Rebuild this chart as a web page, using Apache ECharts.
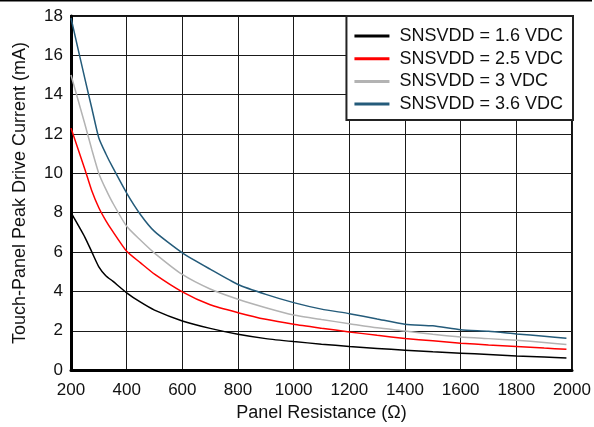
<!DOCTYPE html>
<html>
<head>
<meta charset="utf-8">
<script src="https://cdn.jsdelivr.net/npm/echarts@6/dist/echarts.min.js"></script>
<style>
   html, body { margin: 0; padding: 0; background: #fff; }
   #chart { width: 594px; height: 427px; }
</style>
</head>
<body>
<div id="chart"></div>
<script>
// panel resistance (ohm), shared by all curves
var resistance = [200, 250, 275, 300, 325, 350, 400, 450, 500, 600, 700, 800, 900,
   1000, 1100, 1200, 1300, 1400, 1500, 1600, 1700, 1800, 1900, 1980];

// peak drive current (mA)
var vdd16 = [8.0, 6.75, 6.0, 5.25, 4.8, 4.52, 3.93, 3.45, 3.05, 2.5, 2.12, 1.82, 1.6,
   1.45, 1.32, 1.2, 1.1, 1.01, 0.93, 0.86, 0.79, 0.72, 0.67, 0.62];
var vdd25 = [12.3, 10.2, 9.1, 8.25, 7.6, 7.05, 6.04, 5.45, 4.88, 3.98, 3.32, 2.92, 2.58,
   2.33, 2.13, 1.94, 1.77, 1.61, 1.49, 1.37, 1.28, 1.2, 1.12, 1.06];
var vdd30 = [15.0, 12.5, 11.2, 10.0, 9.2, 8.5, 7.31, 6.6, 5.95, 4.86, 4.12, 3.6, 3.17,
   2.8, 2.57, 2.36, 2.15, 1.99, 1.82, 1.68, 1.6, 1.52, 1.4, 1.3];
var vdd36 = [17.9, 14.8, 13.3, 11.8, 11.0, 10.3, 9.0, 7.9, 7.05, 5.96, 5.13, 4.35, 3.85,
   3.43, 3.1, 2.87, 2.6, 2.33, 2.25, 2.05, 1.97, 1.84, 1.72, 1.62];

var seriesNames = ['SNSVDD = 1.6 VDC', 'SNSVDD = 2.5 VDC', 'SNSVDD = 3 VDC', 'SNSVDD = 3.6 VDC'];
var seriesColors = ['#000000', '#ff0000', '#b3b3b3', '#245b7a'];
var seriesData = [vdd16, vdd25, vdd30, vdd36];

var font = '"Liberation Sans", Arial, sans-serif';

var pairUp = function(ys) {
   var out = [];
   for (var i = 0; i < resistance.length; i++) {
      out.push([resistance[i], ys[i]]);
   }
   return out;
};

var series = [];
for (var i = 0; i < seriesNames.length; i++) {
   series.push({
      name: seriesNames[i],
      type: 'line',
      symbol: 'none',
      smooth: 0.2,
      color: seriesColors[i],
      lineStyle: { width: 1.5, color: seriesColors[i] },
      data: pairUp(seriesData[i])
   });
}

var chart = echarts.init(document.getElementById('chart'));

chart.setOption({
   backgroundColor: '#fff',
   animation: false,
   textStyle: { fontFamily: font },
   grid: {
      left: 71, top: 16, right: 22, bottom: 56,
      show: true, borderColor: '#111', borderWidth: 2,
      containLabel: false
   },
   legend: {
      orient: 'vertical',
      right: 21, top: 16,
      backgroundColor: '#fff',
      borderColor: '#222',
      borderWidth: 2,
      borderRadius: 0,
      padding: [9, 10, 5, 8],
      icon: 'rect',
      itemWidth: 35,
      itemHeight: 3,
      itemGap: 0.7,
      textStyle: {
         fontSize: 18, lineHeight: 22, color: '#111', fontFamily: font,
         padding: [0, 0, 0, 5]
      },
      data: seriesNames
   },
   xAxis: {
      type: 'value',
      min: 200, max: 2000, interval: 200,
      name: 'Panel Resistance (\u03a9)',
      nameLocation: 'middle',
      nameGap: 30,
      nameTextStyle: { fontSize: 18, color: '#111', fontFamily: font },
      axisLine: { show: true, lineStyle: { color: '#000', width: 3 } },
      axisTick: { show: false },
      axisLabel: {
         fontSize: 17, color: '#111', margin: 12, fontFamily: font,
         formatter: function(v) { return String(v); }
      },
      splitLine: { show: true, lineStyle: { color: '#1a1a1a', width: 1 } }
   },
   yAxis: {
      type: 'value',
      min: 0, max: 18, interval: 2,
      name: 'Touch-Panel Peak Drive Current (mA)',
      nameLocation: 'middle',
      nameGap: 42,
      nameTextStyle: { fontSize: 18, color: '#111', fontFamily: font },
      axisLine: { show: true, lineStyle: { color: '#000', width: 3 } },
      axisTick: { show: false },
      axisLabel: { fontSize: 17, color: '#111', margin: 8, fontFamily: font },
      splitLine: { show: true, lineStyle: { color: '#1a1a1a', width: 1 } }
   },
   graphic: [{
      type: 'line',
      shape: { x1: 0, y1: 0.5, x2: 592, y2: 0.5 },
      style: { stroke: '#000', lineWidth: 2 }
   }],
   series: series
});
</script>
</body>
</html>
